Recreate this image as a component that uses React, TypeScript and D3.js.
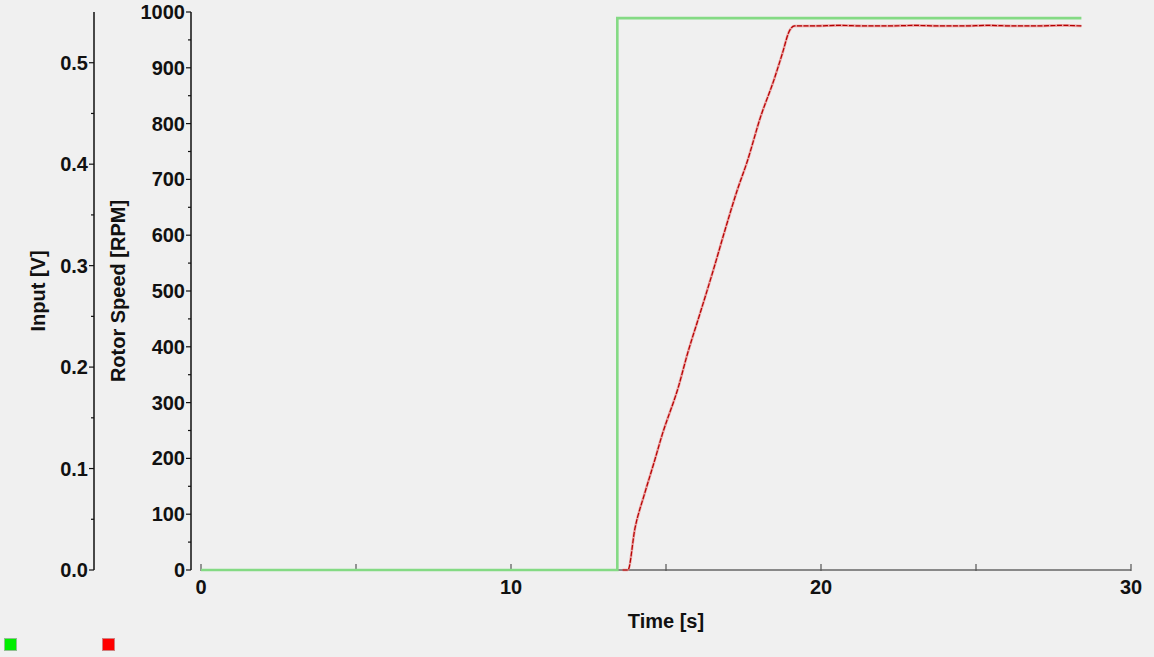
import { useEffect, useRef } from 'react';
import * as d3 from 'd3';

const WIDTH = 1154;
const HEIGHT = 657;

// Input voltage step (time [s], volts)
const inputTime = [0, 13.43, 13.43, 28.4];
const inputVolts = [0, 0, 0.544, 0.544];

// Rotor speed response (time [s], RPM)
const speedTime = [
  13.6, 13.77, 14.0, 14.3, 14.6, 14.88, 15.41, 15.68, 16.11, 16.54, 16.87, 17.3, 17.62,
  18.05, 18.48, 18.75, 18.98, 19.15, 19.8, 20.6, 21.4, 22.2, 23.0, 23.8, 24.6,
  25.4, 26.2, 27.0, 27.8, 28.4,
];
const speedRpm = [
  0, 0, 75, 135, 190, 243, 330, 385, 462, 540, 603, 681, 732,
  812, 878, 925, 966, 975, 975, 976, 975, 975, 976, 975, 975,
  976, 975, 975, 976, 975,
];

const xMajorTicks = [0, 10, 20, 30];
const xMinorTicks = [5, 15, 25];
const rpmMajorTicks = [0, 100, 200, 300, 400, 500, 600, 700, 800, 900, 1000];
const voltMajorTicks = [0, 0.1, 0.2, 0.3, 0.4, 0.5];

const legendColors = ['#00ee00', '#ff0000'];

const PLOT = { left: 201, right: 1131, top: 12, bottom: 570 };
const RPM_AXIS_X = 191;
const VOLT_AXIS_X = 94;
const FONT = '"Liberation Sans", Arial, sans-serif';

export default function App() {
  const ref = useRef<SVGSVGElement | null>(null);

  useEffect(() => {
    document.body.style.margin = '0';
    document.body.style.background = '#f0f0f0';
    if (!ref.current) return;
    const svg = d3.select(ref.current);
    svg.selectAll('*').remove();

    const x = d3.scaleLinear().domain([0, 30]).range([PLOT.left, PLOT.right]);
    const yRpm = d3.scaleLinear().domain([0, 1000]).range([PLOT.bottom, PLOT.top]);
    const yVolt = d3.scaleLinear().domain([0, 0.55]).range([PLOT.bottom, PLOT.top]);

    svg.append('rect').attr('width', WIDTH).attr('height', HEIGHT).attr('fill', '#f0f0f0');

    const text = (g: d3.Selection<SVGGElement, unknown, null, undefined>) =>
      g.attr('font-family', FONT).attr('font-weight', 'bold').attr('font-size', 20).attr('fill', '#111');

    // x axis
    const gx = svg.append('g').call(text);
    gx.append('line')
      .attr('x1', x(0))
      .attr('x2', x(30))
      .attr('y1', PLOT.bottom)
      .attr('y2', PLOT.bottom)
      .attr('stroke', '#666')
      .attr('stroke-width', 1.6);
    [...xMajorTicks, ...xMinorTicks].forEach((t) => {
      gx.append('line')
        .attr('x1', x(t))
        .attr('x2', x(t))
        .attr('y1', PLOT.bottom - 6)
        .attr('y2', PLOT.bottom + 1)
        .attr('stroke', '#555')
        .attr('stroke-width', 1.2);
    });
    xMajorTicks.forEach((t) => {
      gx.append('text')
        .attr('x', x(t))
        .attr('y', PLOT.bottom + 24)
        .attr('text-anchor', 'middle')
        .text(String(t));
    });
    gx.append('text')
      .attr('x', 666)
      .attr('y', 628)
      .attr('text-anchor', 'middle')
      .text('Time [s]');

    // rotor speed axis
    const gr = svg.append('g').call(text);
    gr.append('line')
      .attr('x1', RPM_AXIS_X)
      .attr('x2', RPM_AXIS_X)
      .attr('y1', PLOT.top)
      .attr('y2', PLOT.bottom)
      .attr('stroke', '#111')
      .attr('stroke-width', 1.5);
    d3.range(0, 1001, 50).forEach((v) => {
      const major = v % 100 === 0;
      gr.append('line')
        .attr('x1', RPM_AXIS_X - (major ? 5 : 3))
        .attr('x2', RPM_AXIS_X)
        .attr('y1', yRpm(v))
        .attr('y2', yRpm(v))
        .attr('stroke', '#111')
        .attr('stroke-width', 1.2);
    });
    rpmMajorTicks.forEach((v) => {
      gr.append('text')
        .attr('x', RPM_AXIS_X - 6)
        .attr('y', yRpm(v) + 7)
        .attr('text-anchor', 'end')
        .text(String(v));
    });
    gr.append('text')
      .attr('transform', `translate(125,${(PLOT.top + PLOT.bottom) / 2}) rotate(-90)`)
      .attr('text-anchor', 'middle')
      .text('Rotor Speed [RPM]');

    // input axis
    const gv = svg.append('g').call(text);
    gv.append('line')
      .attr('x1', VOLT_AXIS_X)
      .attr('x2', VOLT_AXIS_X)
      .attr('y1', PLOT.top)
      .attr('y2', PLOT.bottom)
      .attr('stroke', '#111')
      .attr('stroke-width', 1.5);
    d3.range(0, 11).forEach((i) => {
      const v = i * 0.05;
      const major = i % 2 === 0;
      gv.append('line')
        .attr('x1', VOLT_AXIS_X - (major ? 5 : 3))
        .attr('x2', VOLT_AXIS_X)
        .attr('y1', yVolt(v))
        .attr('y2', yVolt(v))
        .attr('stroke', '#111')
        .attr('stroke-width', 1.2);
    });
    voltMajorTicks.forEach((v) => {
      gv.append('text')
        .attr('x', VOLT_AXIS_X - 6)
        .attr('y', yVolt(v) + 7)
        .attr('text-anchor', 'end')
        .text(v.toFixed(1));
    });
    gv.append('text')
      .attr('transform', `translate(45,${(PLOT.top + PLOT.bottom) / 2}) rotate(-90)`)
      .attr('text-anchor', 'middle')
      .text('Input [V]');

    // rotor speed trace
    const speedLine = d3
      .line<number>()
      .x((_, i) => x(speedTime[i]))
      .y((d) => yRpm(d))
      .curve(d3.curveMonotoneX);
    svg.append('path')
      .datum(speedRpm)
      .attr('fill', 'none')
      .attr('stroke', '#e88080')
      .attr('stroke-opacity', 0.7)
      .attr('stroke-width', 2.6)
      .attr('stroke-linejoin', 'round')
      .attr('d', speedLine);
    svg.append('path')
      .datum(speedRpm)
      .attr('fill', 'none')
      .attr('stroke', '#b40000')
      .attr('stroke-width', 1.2)
      .attr('stroke-dasharray', '5 1.5')
      .attr('stroke-linejoin', 'round')
      .attr('d', speedLine);

    // input trace
    const inputLine = d3
      .line<number>()
      .x((_, i) => x(inputTime[i]))
      .y((d) => yVolt(d));
    svg.append('path')
      .datum(inputVolts)
      .attr('fill', 'none')
      .attr('stroke', '#84da84')
      .attr('stroke-width', 2.6)
      .attr('d', inputLine);

    // legend swatches
    legendColors.forEach((c, i) => {
      svg.append('rect')
        .attr('x', 4.5 + i * 98)
        .attr('y', 638.5)
        .attr('width', 12)
        .attr('height', 12)
        .attr('fill', c)
        .attr('stroke', i === 0 ? '#8fbf8f' : '#d08080')
        .attr('stroke-width', 1);
    });
  }, []);

  return (
    <svg
      ref={ref}
      width={WIDTH}
      height={HEIGHT}
      viewBox={`0 0 ${WIDTH} ${HEIGHT}`}
      style={{ display: 'block' }}
    />
  );
}
